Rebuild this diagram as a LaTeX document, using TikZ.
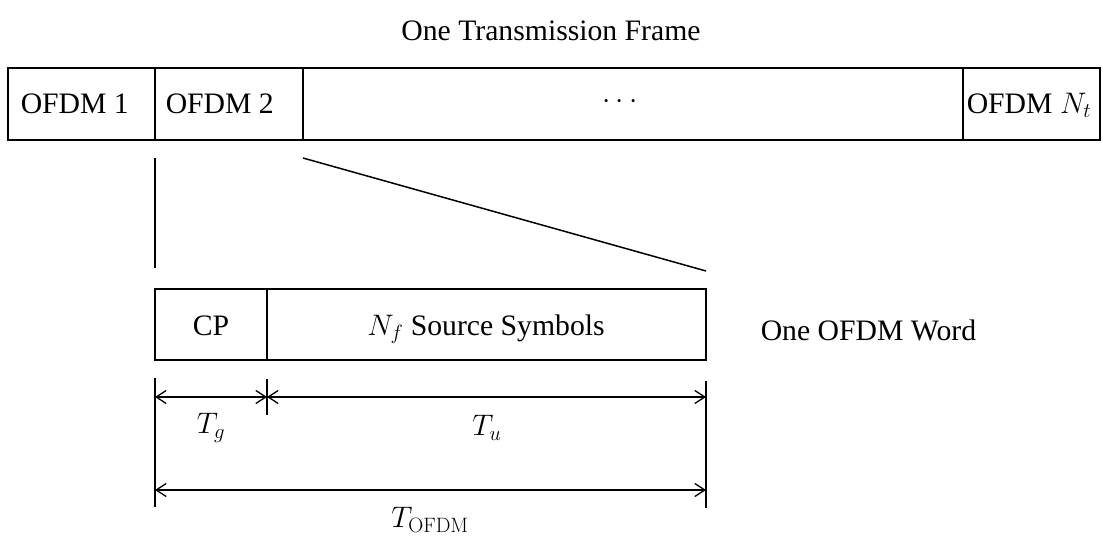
\RequirePackage{fix-cm}
\documentclass[tikz,border=0pt]{standalone}
\usepackage[no-math]{fontspec}
\setmainfont{Liberation Serif}
\usetikzlibrary{arrows.meta}
\begin{document}
\begin{tikzpicture}[x=1pt,y=-1pt,
  line width=1.5pt,
  lbl/.style={font=\rmfamily\fontsize{29.7}{36}\selectfont, inner sep=0pt},
  box/.style={draw, line width=1.5pt},
  tick/.style={line width=1.5pt},
  dim/.style={line width=1.3pt, {Straight Barb[length=10pt,width=13pt,line width=1.3pt]}-{Straight Barb[length=10pt,width=13pt,line width=1.3pt]}}]
\useasboundingbox (0,0) rectangle (1103,546);
% title
\node[lbl, anchor=base] (title) at (551,40) {One Transmission Frame};
% frame
\draw[box] (8,68) rectangle (155,140);
\draw[box] (155,68) rectangle (303,140);
\draw[box] (303,68) rectangle (963,140);
\draw[box] (963,68) rectangle (1100,140);
\node[lbl, anchor=base west] (f1) at (20,113) {OFDM 1};
\node[lbl, anchor=base west] (f2) at (165,113) {OFDM 2};
\node[lbl] (fd) at (620,102) {$\cdots$};
\node[lbl, anchor=base west] (fn) at (966,113) {OFDM $N_t$};
% zoom lines
\coordinate (z1a) at (155,158);
\coordinate (z1b) at (155,268);
\coordinate (z2a) at (303,158);
\coordinate (z2b) at (706,271);
\draw[tick] (z1a) -- (z1b);
\draw[tick] (z2a) -- (z2b);
% OFDM word
\draw[box] (155,289) rectangle (267,360);
\draw[box] (267,289) rectangle (706,360);
\node[lbl, anchor=base] (cp) at (211,335) {CP};
\node[lbl, anchor=base] (src) at (486,335) {{$N_f$} \rmfamily Source Symbols};
\node[lbl, anchor=base west] (word) at (760,340) {One OFDM Word};
% dimension ticks
\coordinate (l1) at (155,378);
\coordinate (l2) at (155,507);
\coordinate (m1) at (267,379);
\coordinate (m2) at (267,415);
\coordinate (r1) at (706,381);
\coordinate (r2) at (706,508);
\draw[tick] (l1) -- (l2);
\draw[tick] (m1) -- (m2);
\draw[tick] (r1) -- (r2);
% dimension arrows
\coordinate (a1) at (155,397);
\coordinate (a2) at (267,397);
\coordinate (a3) at (706,397);
\coordinate (b1) at (155,490);
\coordinate (b2) at (706,490);
\draw[dim] (a1) -- (a2);
\draw[dim] (a2) -- (a3);
\draw[dim] (b1) -- (b2);
\node[lbl] (tg) at (211,428) {$T_g$};
\node[lbl] (tu) at (487,428) {$T_u$};
\node[lbl] (to) at (430,520) {$T_{\mathrm{OFDM}}$};
\end{tikzpicture}
\end{document}
